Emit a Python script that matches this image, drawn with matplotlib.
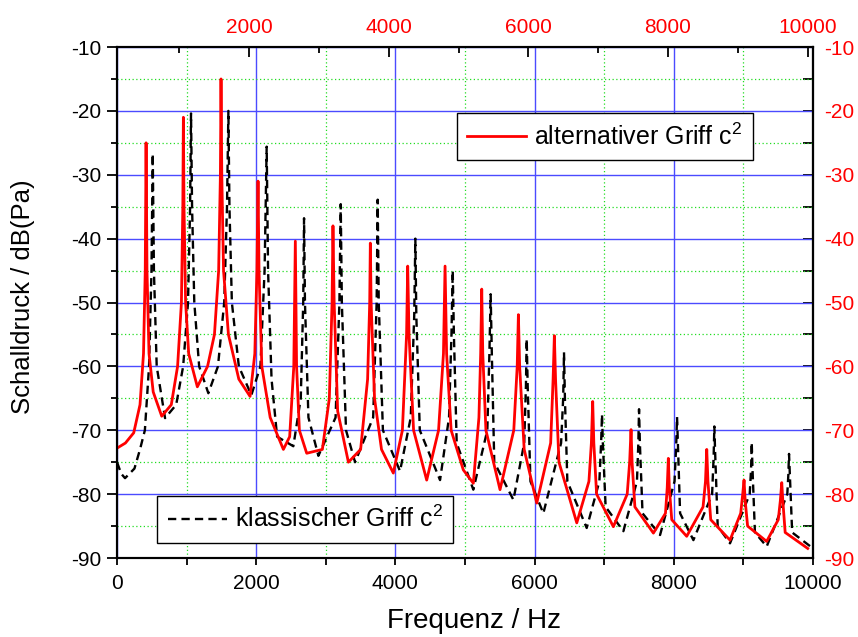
import matplotlib
matplotlib.use('Agg')
import matplotlib.pyplot as plt
from matplotlib.ticker import MultipleLocator
from matplotlib.lines import Line2D

# Schriftart (Arial-kompatibel), Minus als einfacher Bindestrich
plt.rcParams['font.family'] = ['Liberation Sans', 'DejaVu Sans']
plt.rcParams['mathtext.default'] = 'regular'
plt.rcParams['axes.unicode_minus'] = False

# klassischer Griff c2 (untere x-Achse)
klassisch_hz = [0, 60, 115, 250, 330, 400, 460, 495, 513, 530, 570,
                690, 850, 950, 1020, 1050, 1063, 1078, 1110, 1180,
                1312, 1450, 1540, 1580, 1600, 1615, 1650, 1750,
                1930, 2060, 2120, 2150, 2170, 2220, 2300,
                2533, 2640, 2675, 2687, 2700, 2750,
                2893, 3140, 3195, 3214, 3230, 3290,
                3420, 3680, 3730, 3745, 3760, 3820,
                4066, 4220, 4270, 4286, 4300, 4350,
                4641, 4770, 4805, 4823, 4840, 4880,
                5119, 5320, 5350, 5368, 5385, 5420,
                5695, 5850, 5875, 5886, 5900, 5940,
                6125, 6380, 6410, 6422, 6435, 6470,
                6748, 6930, 6955, 6968, 6980, 7020,
                7275, 7470, 7490, 7500, 7512, 7550,
                7802, 8010, 8035, 8046, 8058, 8090,
                8281, 8550, 8572, 8582, 8595, 8630,
                8807, 9090, 9110, 9119, 9130, 9165,
                9334, 9630, 9645, 9655, 9667, 9700,
                10000]
klassisch_db = [-75, -76.8, -77.5, -76, -73, -70, -60, -45, -26.7, -45, -60,
                -68.1, -66, -60, -50, -35, -20.4, -35, -50, -60,
                -64.2, -60, -50, -35, -20, -35, -50, -60,
                -64.5, -60, -45, -25.6, -45, -62, -71,
                -72.5, -65, -50, -36.8, -50, -68,
                -74, -68, -50, -34.6, -50, -70,
                -75, -68, -50, -33.9, -50, -70,
                -76.4, -68, -52, -40, -52, -70,
                -77.8, -68, -55, -45, -55, -72,
                -79.3, -70, -58, -48.7, -58, -75,
                -80.9, -72, -63, -55.7, -63, -78,
                -83, -72, -65, -57.8, -65, -78,
                -85.3, -78, -72, -67.5, -72, -82,
                -85.8, -78, -72, -66.7, -72, -83,
                -86.4, -78, -72, -67.9, -72, -83,
                -87.2, -80, -74, -69.4, -74, -85,
                -87.7, -80, -76, -71.9, -76, -86,
                -88.2, -80, -77, -73.7, -77, -86,
                -88.5]

# alternativer Griff c2 (obere x-Achse, rot)
alternativ_hz = [110, 230, 349, 439, 489, 514, 526, 539, 568, 628,
                 750, 887, 977, 1032, 1052, 1060, 1069, 1092, 1136,
                 1260, 1406, 1505, 1565, 1590, 1599, 1610, 1635, 1705, 1854,
                 2015, 2083, 2113, 2129, 2143, 2183, 2303,
                 2492, 2582, 2641, 2663, 2681, 2721,
                 2826, 3050, 3150, 3189, 3202, 3219, 3269,
                 3423, 3598, 3698, 3728, 3737, 3748, 3797, 3897,
                 4066, 4196, 4256, 4272, 4291, 4356,
                 4544, 4714, 4784, 4807, 4829, 4894,
                 5068, 5212, 5292, 5317, 5332, 5347, 5392,
                 5594, 5791, 5840, 5857, 5875, 5940,
                 6120, 6319, 6354, 6372, 6389, 6438,
                 6693, 6867, 6902, 6921, 6937, 6977,
                 7217, 7415, 7450, 7470, 7485, 7525,
                 7790, 7963, 7988, 8004, 8018, 8053,
                 8267, 8501, 8536, 8554, 8571, 8611,
                 8887, 9040, 9069, 9088, 9104, 9139,
                 9412, 9578, 9608, 9628, 9643, 9677,
                 10000]
alternativ_db = [-72.8, -72, -70.4, -66, -58, -45, -25, -45, -58, -64,
                 -67.8, -66, -60, -50, -35, -21, -35, -50, -58,
                 -63.2, -60, -55, -45, -30, -15, -30, -45, -55, -62,
                 -64.7, -58, -45, -31, -45, -60, -68,
                 -73, -71, -60, -40.4, -60, -70,
                 -73.6, -73, -65, -50, -38, -50, -67,
                 -75, -73, -62, -50, -40.7, -50, -65, -73,
                 -76.7, -70, -55, -44.3, -55, -70,
                 -77.8, -70, -58, -44.3, -58, -70,
                 -76.2, -78.3, -68, -58, -47.9, -58, -70,
                 -79.3, -70, -60, -51.9, -60, -73,
                 -81.4, -72, -62, -55.2, -62, -75,
                 -84.5, -78, -72, -65.5, -72, -80,
                 -85.1, -80, -75, -69.9, -75, -82,
                 -86.1, -83, -79, -74.4, -79, -84,
                 -86.6, -82, -78, -73, -78, -84,
                 -87.2, -83, -80, -77.8, -81, -85,
                 -87.4, -84, -81, -78.2, -81, -86,
                 -88.5]

label_klassisch = 'klassischer Griff c$^2$'
label_alternativ = 'alternativer Griff c$^2$'

TICK_SIZE = 15
DASHES = (0, (3.5, 2.2))


def style_axes(ax):
    ax.set_xlim(0, 10000)
    ax.set_ylim(-90, -10)
    ax.xaxis.set_major_locator(MultipleLocator(2000))
    ax.xaxis.set_minor_locator(MultipleLocator(1000))
    ax.yaxis.set_major_locator(MultipleLocator(10))
    ax.yaxis.set_minor_locator(MultipleLocator(5))

    # Gitter: blau durchgezogen, gruen gepunktet
    ax.grid(which='major', color='#4b4bff', linewidth=1.0)
    ax.grid(which='minor', color='#22dd22', linewidth=0.9, linestyle=(0, (1, 2)))
    ax.set_axisbelow(True)

    ax.tick_params(axis='x', which='both', direction='out', top=False,
                   labelsize=TICK_SIZE, pad=6.5, width=1.3)
    ax.tick_params(axis='x', which='major', length=5)
    ax.tick_params(axis='x', which='minor', length=5)
    ax.tick_params(axis='y', which='both', direction='out', right=False,
                   labelsize=TICK_SIZE, pad=4, width=1.3)
    ax.tick_params(axis='y', which='major', length=7.5)
    ax.tick_params(axis='y', which='minor', length=4)
    ax.xaxis.get_offset_text().set_visible(False)
    ax.yaxis.get_offset_text().set_visible(False)
    for sp in ax.spines.values():
        sp.set_linewidth(1.5)


def main():
    fig = plt.figure(figsize=(8.58, 6.37), dpi=100)
    ax = fig.add_axes([0.1364, 0.124, 0.8112, 0.8022])
    style_axes(ax)

    ax.plot(klassisch_hz, klassisch_db, color='black', linewidth=1.7,
            linestyle=DASHES)

    # rechte y-Achse (rot, Ticks innen)
    sec = ax.secondary_yaxis('right')
    sec.yaxis.set_major_locator(MultipleLocator(10))
    sec.yaxis.set_minor_locator(MultipleLocator(5))
    sec.tick_params(which='both', direction='in', labelcolor='red',
                    labelsize=TICK_SIZE, pad=8, width=1.3)
    sec.tick_params(which='major', length=7.5)
    sec.tick_params(which='minor', length=7.5)
    sec.spines['right'].set_linewidth(1.5)
    sec.yaxis.get_offset_text().set_visible(False)

    # obere x-Achse fuer den alternativen Griff
    ax2 = ax.twiny()
    ax2.set_xlim(110, 10076)
    ax2.xaxis.set_major_locator(MultipleLocator(2000))
    ax2.xaxis.set_minor_locator(MultipleLocator(1000))
    ax2.tick_params(axis='x', which='both', direction='in', top=True,
                    bottom=False, labelcolor='red', labelsize=TICK_SIZE,
                    pad=7, width=1.3)
    ax2.tick_params(axis='x', which='major', length=7)
    ax2.tick_params(axis='x', which='minor', length=4)
    ax2.xaxis.get_offset_text().set_visible(False)
    for sp in ax2.spines.values():
        sp.set_linewidth(1.5)

    ax2.plot(alternativ_hz, alternativ_db, color='red', linewidth=2.0)

    # Legenden
    leg_kw = dict(fontsize=18, frameon=True, fancybox=False, framealpha=1,
                  edgecolor='black', borderaxespad=0, borderpad=0.42,
                  handlelength=2.36, handletextpad=0.32)
    h_red = Line2D([], [], color='red', linewidth=2)
    h_black = Line2D([], [], color='black', linewidth=1.7, linestyle=DASHES)
    leg1 = ax2.legend([h_red], [label_alternativ], loc='upper left',
                      bbox_to_anchor=(0.488, 0.8714),
                      bbox_transform=ax.transAxes, **leg_kw)
    leg1.get_frame().set_linewidth(1.0)
    ax2.add_artist(leg1)
    leg2 = ax2.legend([h_black], [label_klassisch], loc='lower left',
                      bbox_to_anchor=(0.0575, 0.0294),
                      bbox_transform=ax.transAxes, **leg_kw)
    leg2.get_frame().set_linewidth(1.0)

    # Achsenbeschriftungen
    fig.text(0.553, 0.014, 'Frequenz / Hz', fontsize=20, ha='center',
             va='baseline')
    fig.text(0.027, 0.534, 'Schalldruck / dB(Pa)', fontsize=18.5,
             rotation=90, ha='center', va='center')

    fig.savefig('out.png', dpi=100)


if __name__ == "__main__":
    main()
